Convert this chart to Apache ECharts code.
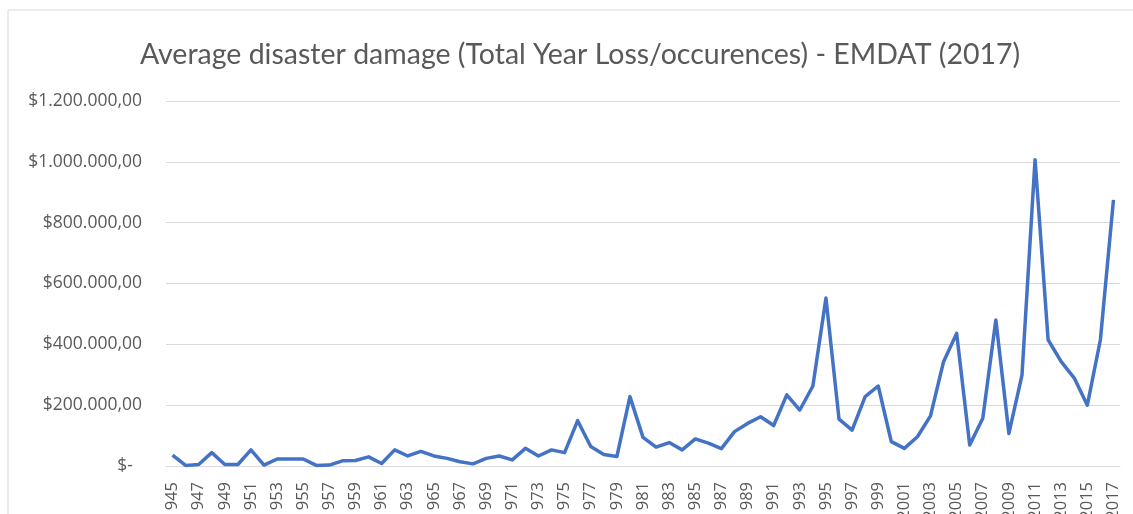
<!DOCTYPE html>
<html>
<head>
<meta charset="utf-8">
<script src="https://cdn.jsdelivr.net/npm/echarts@6/dist/echarts.min.js"></script>
<style>
html,body{margin:0;padding:0;background:#fff;overflow:hidden;}
#chart{width:1133px;height:514px;}
</style>
</head>
<body>
<div id="chart"></div>
<script>
const years = [];
for (let y = 1945; y <= 2017; y++) years.push(String(y));

const avgDamage = [
  36000, 2000, 5000, 44000, 5000, 5000, 53000, 3000, 23000, 23000,
  23000, 2000, 3000, 17000, 18000, 30000, 8000, 53000, 33000, 48000,
  33000, 25000, 14000, 7000, 25000, 33000, 20000, 58000, 33000, 53000,
  44000, 149000, 64000, 38000, 31000, 228000, 94000, 62000, 77000, 53000,
  89000, 75000, 57000, 113000, 140000, 162000, 133000, 234000, 184000, 263000,
  552000, 154000, 118000, 228000, 263000, 80000, 58000, 96000, 165000, 343000,
  436000, 69000, 157000, 480000, 107000, 299000, 1007000, 415000, 343000, 289000,
  200000, 415000, 875000
];

const yTicks = [0, 200000, 400000, 600000, 800000, 1000000, 1200000];

function fmtMoney(v) {
  if (v === 0) return '$-  ';
  const s = String(Math.round(v)).replace(/\B(?=(\d{3})+(?!\d))/g, '.');
  return '$' + s + ',00';
}

const chart = echarts.init(document.getElementById('chart'), null, {renderer: 'canvas'});
chart.setOption({
  backgroundColor: '#fff',
  animation: false,
  graphic: [{
    type: 'rect',
    shape: {x: 8, y: 10, width: 1200, height: 600},
    style: {fill: 'none', stroke: '#d9d9d9', lineWidth: 1},
    silent: true, z: -1
  }],
  title: {
    text: 'Average disaster damage (Total Year Loss/occurences) - EMDAT (2017)',
    left: 575,
    top: 35,
    textAlign: 'center',
    textStyle: {fontFamily: 'Lato', fontSize: 28.5, fontWeight: 'normal', color: '#595959'}
  },
  grid: {left: 166, right: 13, top: 101, bottom: 48, containLabel: false, outerBoundsMode: 'none'},
  xAxis: {
    type: 'category',
    data: years,
    boundaryGap: true,
    axisLine: {show: true, lineStyle: {color: '#d9d9d9', width: 1}},
    axisTick: {show: false},
    axisLabel: {
      interval: 1,
      rotate: 90,
      margin: 16,
      fontFamily: 'Open Sans',
      fontSize: 16.5,
      color: '#595959'
    }
  },
  yAxis: {
    type: 'value',
    min: yTicks[0],
    max: yTicks[yTicks.length - 1],
    interval: 200000,
    axisLine: {show: false},
    axisTick: {show: false},
    splitLine: {lineStyle: {color: '#d9d9d9', width: 1}},
    axisLabel: {
      margin: 24,
      fontFamily: 'Open Sans',
      fontSize: 17.5,
      color: '#595959',
      formatter: fmtMoney
    }
  },
  series: [{
    type: 'line',
    data: avgDamage,
    symbol: 'none',
    lineStyle: {color: '#4472C4', width: 3.5, join: 'round'}
  }]
});
</script>
</body>
</html>
